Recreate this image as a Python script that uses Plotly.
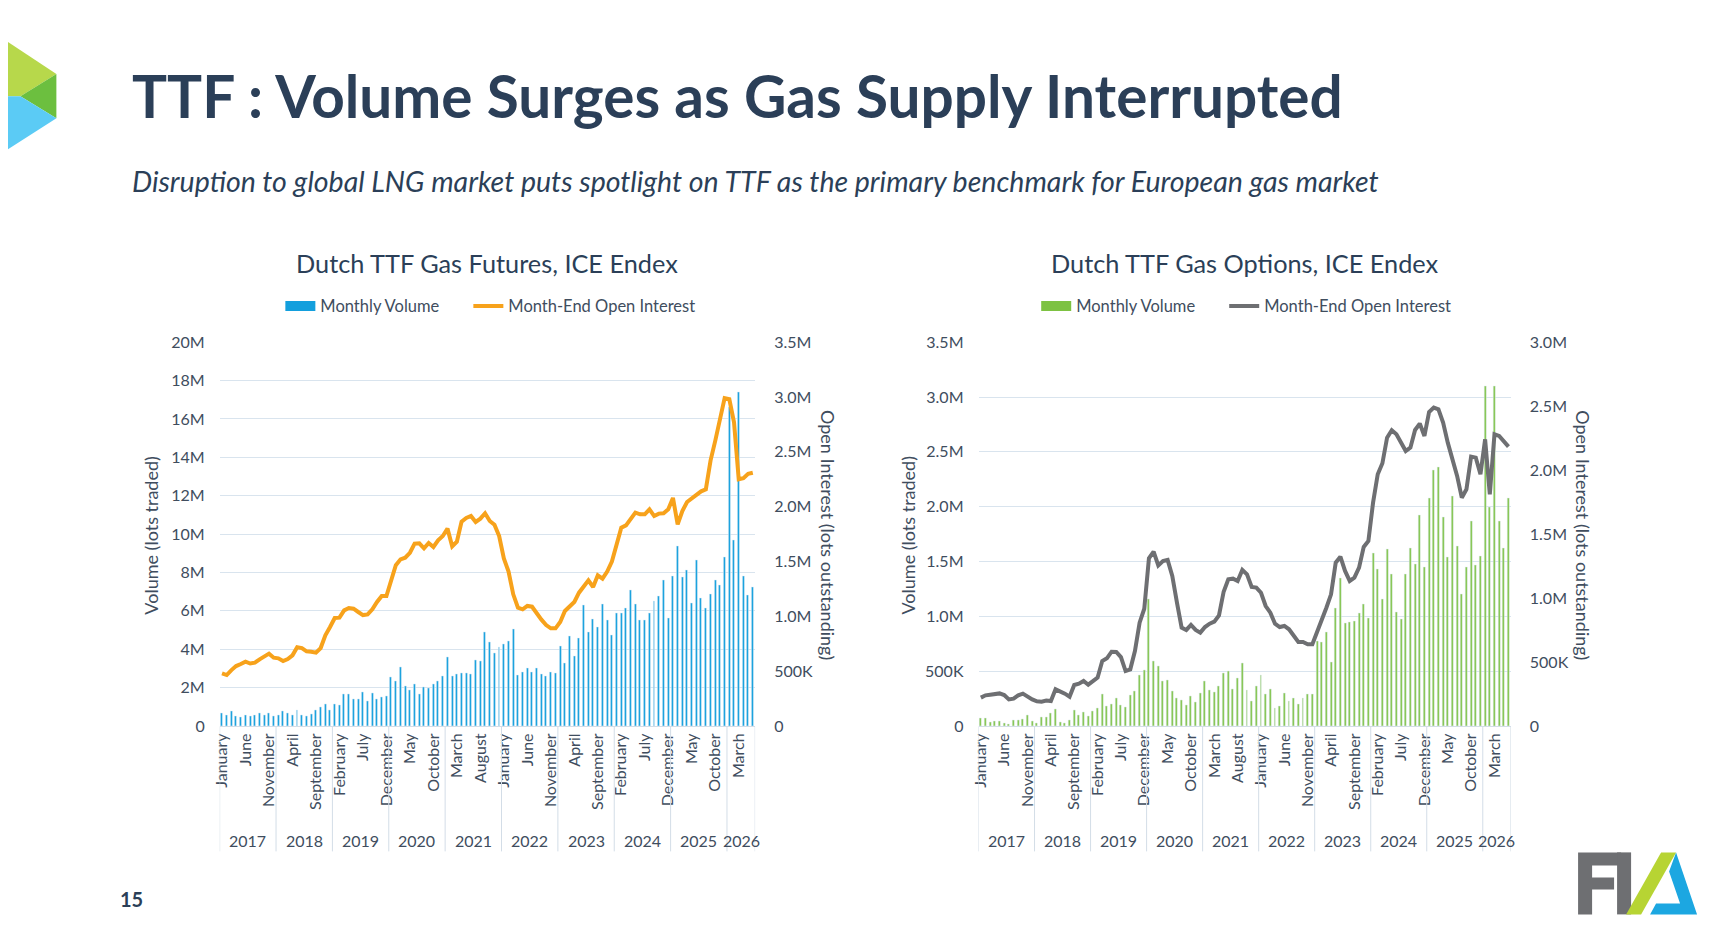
import numpy as np
import plotly.graph_objects as go

W, H = 1731, 939

# ---- data (values in millions of lots) ----
YEARS = [2017, 2018, 2019, 2020, 2021, 2022, 2023, 2024, 2025, 2026]
MONTHS_IN_YEAR = [12, 12, 12, 12, 12, 12, 12, 12, 12, 6]
MONTH_NAMES = ["January", "February", "March", "April", "May", "June", "July",
               "August", "September", "October", "November", "December"]

futures_volume = [
    0.66, 0.56, 0.78, 0.52, 0.47, 0.57, 0.52, 0.56, 0.66, 0.57, 0.66, 0.52,
    0.57, 0.76, 0.66, 0.57, 0.82, 0.56, 0.49, 0.63, 0.83, 0.99, 1.13, 0.82,
    1.13, 1.11, 1.65, 1.65, 1.39, 1.41, 1.74, 1.30, 1.70, 1.39, 1.49, 1.56,
    2.52, 2.33, 3.07, 2.08, 1.86, 2.19, 1.67, 2.00, 1.96, 2.17, 2.34, 2.60,
    3.58, 2.60, 2.69, 2.76, 2.76, 2.69, 3.44, 3.39, 4.90, 4.38, 3.82, 4.13,
    4.24, 4.44, 5.07, 2.64, 2.78, 3.02, 2.78, 3.02, 2.69, 2.60, 2.83, 2.73,
    4.17, 3.30, 4.69, 3.66, 4.57, 6.30, 4.90, 5.56, 5.17, 6.37, 5.50, 4.72,
    5.90, 5.87, 6.13, 7.08, 6.37, 5.50, 5.50, 5.87, 6.49, 6.75, 7.62, 5.64,
    7.83, 9.36, 7.76, 8.13, 6.39, 8.66, 6.65, 6.13, 6.89, 7.59, 7.36, 8.82,
    16.6, 9.67, 17.4, 7.81, 6.84, 7.24,
]
futures_oi = [
    0.48, 0.465, 0.51, 0.547, 0.566, 0.587, 0.57, 0.578, 0.608, 0.635, 0.66, 0.623,
    0.617, 0.593, 0.611, 0.645, 0.718, 0.711, 0.681, 0.678, 0.669, 0.711, 0.827, 0.903,
    0.985, 0.988, 1.055, 1.076, 1.07, 1.04, 1.012, 1.018, 1.064, 1.131, 1.186, 1.186,
    1.338, 1.466, 1.52, 1.535, 1.58, 1.663, 1.666, 1.62, 1.669, 1.633, 1.694, 1.733,
    1.80, 1.639, 1.681, 1.864, 1.897, 1.915, 1.861, 1.891, 1.94, 1.87, 1.835, 1.733,
    1.529, 1.408, 1.201, 1.079, 1.064, 1.095, 1.088, 1.025, 0.97, 0.921, 0.891, 0.891,
    0.949, 1.049, 1.088, 1.131, 1.216, 1.277, 1.329, 1.268, 1.374, 1.344, 1.408, 1.499,
    1.642, 1.809, 1.83, 1.894, 1.946, 1.931, 1.931, 1.976, 1.915, 1.937, 1.94, 1.976,
    2.08, 1.839, 1.961, 2.043, 2.074, 2.098, 2.14, 2.159, 2.42, 2.60, 2.78, 2.99,
    2.98, 2.77, 2.25, 2.26, 2.30, 2.31,
]
options_volume = [
    0.076, 0.076, 0.036, 0.045, 0.04, 0.03, 0.02, 0.05, 0.055, 0.058, 0.097, 0.048,
    0.03, 0.085, 0.085, 0.115, 0.15, 0.036, 0.03, 0.05, 0.14, 0.10, 0.124, 0.09,
    0.136, 0.16, 0.29, 0.18, 0.20, 0.25, 0.19, 0.17, 0.28, 0.32, 0.46, 0.51,
    1.16, 0.59, 0.55, 0.41, 0.42, 0.32, 0.25, 0.24, 0.19, 0.27, 0.22, 0.30,
    0.41, 0.33, 0.31, 0.36, 0.48, 0.50, 0.34, 0.44, 0.57, 0.33, 0.23, 0.36,
    0.46, 0.29, 0.34, 0.16, 0.18, 0.30, 0.23, 0.25, 0.20, 0.25, 0.29, 0.29,
    0.77, 0.76, 0.86, 0.58, 1.07, 1.35, 0.94, 0.95, 0.96, 1.03, 1.11, 0.98,
    1.58, 1.43, 1.16, 1.61, 1.38, 1.04, 0.97, 1.38, 1.62, 1.48, 1.92, 1.45,
    2.08, 2.33, 2.36, 1.90, 1.54, 2.10, 1.64, 1.20, 1.45, 1.87, 1.47, 1.55,
    3.10, 2.00, 3.10, 1.87, 1.62, 2.08,
]
options_oi = [
    0.222, 0.24, 0.245, 0.253, 0.255, 0.242, 0.208, 0.214, 0.24, 0.253, 0.227, 0.208,
    0.193, 0.19, 0.20, 0.195, 0.287, 0.271, 0.253, 0.229, 0.321, 0.331, 0.352, 0.323,
    0.352, 0.378, 0.508, 0.529, 0.581, 0.579, 0.539, 0.43, 0.443, 0.586, 0.808, 0.917,
    1.311, 1.363, 1.256, 1.29, 1.298, 1.173, 0.964, 0.769, 0.751, 0.79, 0.751, 0.73,
    0.774, 0.80, 0.816, 0.865, 1.05, 1.147, 1.152, 1.134, 1.22, 1.186, 1.087, 1.082,
    1.042, 0.938, 0.886, 0.80, 0.774, 0.782, 0.756, 0.704, 0.657, 0.657, 0.639, 0.639,
    0.73, 0.834, 0.925, 1.029, 1.277, 1.324, 1.212, 1.134, 1.16, 1.238, 1.40, 1.446,
    1.746, 1.968, 2.054, 2.254, 2.312, 2.28, 2.215, 2.15, 2.176, 2.314, 2.364, 2.267,
    2.455, 2.489, 2.476, 2.372, 2.215, 2.098, 1.955, 1.785, 1.85, 2.106, 2.098, 1.968,
    2.241, 1.811, 2.28, 2.267, 2.22, 2.184,
]

VOL_TICKS_FUT = [0, 2, 4, 6, 8, 10, 12, 14, 16, 18, 20]
VOL_TEXT_FUT = ["0", "2M", "4M", "6M", "8M", "10M", "12M", "14M", "16M", "18M", "20M"]
OI_TICKS_FUT = [0, 0.5, 1.0, 1.5, 2.0, 2.5, 3.0, 3.5]
OI_TEXT_FUT = ["0", "500K", "1.0M", "1.5M", "2.0M", "2.5M", "3.0M", "3.5M"]
VOL_TICKS_OPT = [0, 0.5, 1.0, 1.5, 2.0, 2.5, 3.0, 3.5]
VOL_TEXT_OPT = ["0", "500K", "1.0M", "1.5M", "2.0M", "2.5M", "3.0M", "3.5M"]
OI_TICKS_OPT = [0, 0.5, 1.0, 1.5, 2.0, 2.5, 3.0]
OI_TEXT_OPT = ["0", "500K", "1.0M", "1.5M", "2.0M", "2.5M", "3.0M"]

# ---- styling ----
NAVY = "#2B3F58"
TXT = "#404D5E"
GRID = "#D9E4EE"
DIV = "#D3DDE7"
BLUE = "#139FDD"
ORANGE = "#F7A21B"
GREEN = "#7DC242"
GREY = "#6E6F72"
FONT = "Lato"

# pixel positions below are measured on the slide; this small correction
# makes them land in the same place on the photographed page
SX, OX = 1.00444, -15.66
SY, OY = 1.021, -19.3


def xp(px):
    return (SX * px + OX) / W


def yp(py):
    return 1 - (SY * py + OY) / H


def path(points):
    return "M " + " L ".join(f"{xp(x):.5f},{yp(y):.5f}" for x, y in points) + " Z"


# month index and labels
month_labels = [MONTH_NAMES[m] for n in MONTHS_IN_YEAR for m in range(n)]
idx = np.arange(len(month_labels))
tick_idx = list(idx[::5])
tick_txt = [month_labels[i] for i in tick_idx]
year_start = np.concatenate([[0], np.cumsum(MONTHS_IN_YEAR)])

M = 1e6
fig = go.Figure()

# left chart: futures
fig.add_trace(go.Bar(x=idx, y=np.array(futures_volume) * M, marker_color=BLUE,
                     width=0.42, showlegend=False, xaxis="x", yaxis="y"))
fig.add_trace(go.Scatter(x=[None], y=[None], mode="lines", name="Monthly Volume",
                         line=dict(color=BLUE, width=10), legend="legend",
                         legendwidth=143, xaxis="x", yaxis="y"))
fig.add_trace(go.Scatter(x=idx, y=np.array(futures_oi) * M, mode="lines",
                         name="Month-End Open Interest",
                         line=dict(color=ORANGE, width=4), legend="legend",
                         legendwidth=200, xaxis="x", yaxis="y2"))

# right chart: options
fig.add_trace(go.Bar(x=idx, y=np.array(options_volume) * M, marker_color=GREEN,
                     width=0.42, showlegend=False, xaxis="x2", yaxis="y3"))
fig.add_trace(go.Scatter(x=[None], y=[None], mode="lines", name="Monthly Volume",
                         line=dict(color=GREEN, width=10), legend="legend2",
                         legendwidth=143, xaxis="x2", yaxis="y3"))
fig.add_trace(go.Scatter(x=idx, y=np.array(options_oi) * M, mode="lines",
                         name="Month-End Open Interest",
                         line=dict(color=GREY, width=4), legend="legend2",
                         legendwidth=200, xaxis="x2", yaxis="y4"))

ydom = [yp(726.7), yp(343)]
dom_left = [xp(219.3), xp(754.9)]
dom_right = [xp(978.3), xp(1510.7)]

xcommon = dict(range=[-0.5, len(idx) - 0.5], tickvals=tick_idx, ticktext=tick_txt,
               tickangle=-90, tickfont=dict(family=FONT, size=16, color=TXT),
               showgrid=False, zeroline=False, showline=True, linecolor=DIV,
               ticks="", fixedrange=True)
ycommon = dict(tickfont=dict(family=FONT, size=16, color=TXT), zeroline=False,
               domain=ydom, ticks="")
legcommon = dict(orientation="h", xanchor="left", yanchor="middle",
                 font=dict(family=FONT, size=16.5, color=TXT),
                 bgcolor="rgba(0,0,0,0)")

fig.update_layout(
    width=W, height=H,
    margin=dict(l=0, r=0, t=0, b=0),
    paper_bgcolor="white", plot_bgcolor="rgba(0,0,0,0)",
    font=dict(family=FONT, color=TXT),
    bargap=0,
    xaxis=dict(domain=dom_left, anchor="y", **xcommon),
    yaxis=dict(range=[0, 20 * M], tickvals=np.array(VOL_TICKS_FUT) * M,
               ticktext=VOL_TEXT_FUT, gridcolor=GRID, ticklabelstandoff=14,
               anchor="x", **ycommon),
    yaxis2=dict(range=[0, 3.5 * M], tickvals=np.array(OI_TICKS_FUT) * M,
                ticktext=OI_TEXT_FUT, showgrid=False, overlaying="y", side="right",
                anchor="x", ticklabelstandoff=18, **ycommon),
    xaxis2=dict(domain=dom_right, anchor="y3", **xcommon),
    yaxis3=dict(range=[0, 3.5 * M], tickvals=np.array(VOL_TICKS_OPT) * M,
                ticktext=VOL_TEXT_OPT, gridcolor=GRID, ticklabelstandoff=14,
                anchor="x2", **ycommon),
    yaxis4=dict(range=[0, 3.0 * M], tickvals=np.array(OI_TICKS_OPT) * M,
                ticktext=OI_TEXT_OPT, showgrid=False, overlaying="y3", side="right",
                anchor="x2", ticklabelstandoff=18, **ycommon),
    legend=dict(x=xp(280), y=yp(307), **legcommon),
    legend2=dict(x=xp(1036), y=yp(307), **legcommon),
    showlegend=True,
)

shapes = []
annotations = []

# year dividers and year labels under each chart
for xa in ["x", "x2"]:
    for b in year_start:
        shapes.append(dict(type="line", xref=xa, yref="paper", x0=b - 0.5, x1=b - 0.5,
                           y0=yp(727), y1=yp(852), line=dict(color=DIV, width=1)))
    for k, yr in enumerate(YEARS):
        annotations.append(dict(x=(year_start[k] + year_start[k + 1] - 1) / 2,
                                xref=xa, y=yp(841), yref="paper", text=str(yr),
                                showarrow=False, xanchor="center", yanchor="middle",
                                font=dict(family=FONT, size=16, color=TXT)))

# chart titles and axis titles
for cx, title in [(487, "Dutch TTF Gas Futures, ICE Endex"),
                  (1244.5, "Dutch TTF Gas Options, ICE Endex")]:
    annotations.append(dict(x=xp(cx), y=yp(264), xref="paper", yref="paper",
                            text=title, showarrow=False, xanchor="center",
                            yanchor="middle",
                            font=dict(family=FONT, size=25.3, color=NAVY)))
for lx, rx in [(151, 827), (908, 1583)]:
    annotations.append(dict(x=xp(lx), y=yp(536), xref="paper", yref="paper",
                            text="Volume (lots traded)", textangle=-90,
                            showarrow=False, xanchor="center", yanchor="middle",
                            font=dict(family=FONT, size=18, color=TXT)))
    annotations.append(dict(x=xp(rx), y=yp(536), xref="paper", yref="paper",
                            text="Open Interest (lots outstanding)", textangle=90,
                            showarrow=False, xanchor="center", yanchor="middle",
                            font=dict(family=FONT, size=18, color=TXT)))

# slide heading
annotations.append(dict(x=xp(130), y=yp(96), xref="paper", yref="paper",
                        text="TTF : Volume Surges as Gas Supply Interrupted",
                        showarrow=False, xanchor="left", yanchor="middle",
                        font=dict(family=FONT, size=58.5, color=NAVY, weight="bold")))
annotations.append(dict(x=xp(130), y=yp(182), xref="paper", yref="paper",
                        text="Disruption to global LNG market puts spotlight on TTF as the "
                             "primary benchmark for European gas market",
                        showarrow=False, xanchor="left", yanchor="middle",
                        font=dict(family=FONT, size=28.5, color=NAVY, style="italic")))
annotations.append(dict(x=xp(118), y=yp(900), xref="paper", yref="paper", text="15",
                        showarrow=False, xanchor="left", yanchor="middle",
                        font=dict(family=FONT, size=20, color=NAVY, weight="bold")))

# corner chevron
for pts, col in [([(0, 38), (56, 75), (20, 97), (0, 97)], "#B7D84B"),
                 ([(56, 75), (56, 119), (20, 97)], "#6CBF3F"),
                 ([(0, 97), (20, 97), (56, 119), (0, 155)], "#5BCBF5")]:
    shapes.append(dict(type="path", xref="paper", yref="paper", path=path(pts),
                       fillcolor=col, line=dict(width=0)))

# FIA logo
for pts, col in [([(1578, 853), (1621, 853), (1621, 866), (1592, 866), (1592, 878),
                   (1614, 878), (1614, 890), (1592, 890), (1592, 915), (1578, 915)], GREY),
                 ([(1617, 853), (1631, 853), (1631, 915), (1617, 915)], GREY),
                 ([(1626, 915), (1661, 853), (1676, 853), (1641, 915)], "#B7D433"),
                 ([(1676, 853), (1697, 915), (1650, 915), (1656, 904), (1680, 904),
                   (1669, 872)], "#1CA7E1")]:
    shapes.append(dict(type="path", xref="paper", yref="paper", path=path(pts),
                       fillcolor=col, line=dict(width=0)))

fig.update_layout(shapes=shapes, annotations=annotations)

fig.write_html("out.html")
